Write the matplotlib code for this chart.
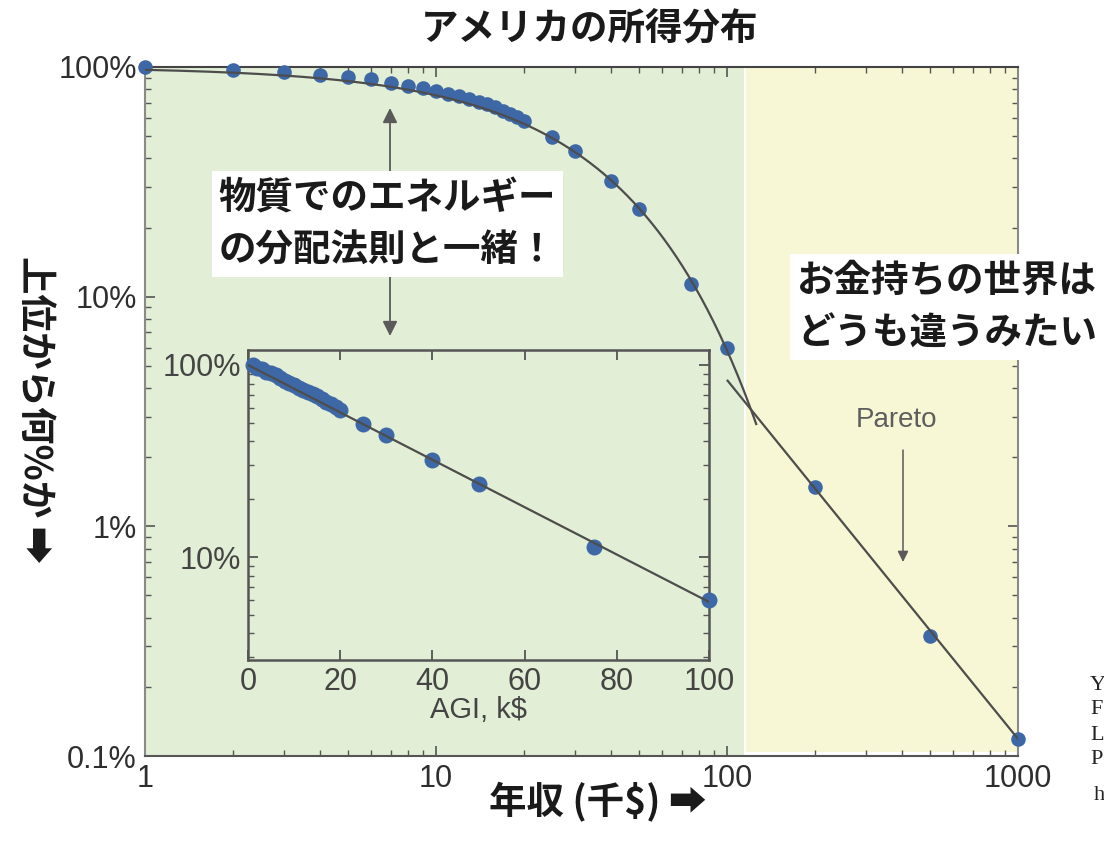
import numpy as np
import matplotlib
matplotlib.use("Agg")
import matplotlib.pyplot as plt
from matplotlib.ticker import FixedLocator, NullFormatter, LogLocator

# --- data: cumulative share of tax returns above a given income (AGI, k$) ---
income_k = [1, 2, 3, 4, 5, 6, 7, 8, 9, 10, 11, 12, 13, 14, 15, 16, 17, 18, 19, 20,
            25, 30, 40, 50, 75, 100, 200, 500, 1000]
share_above = [1.00, 0.970, 0.951, 0.923, 0.905, 0.887, 0.851, 0.829, 0.807, 0.784,
               0.763, 0.745, 0.725, 0.706, 0.688, 0.667, 0.645, 0.624, 0.603, 0.581,
               0.495, 0.430, 0.320, 0.240, 0.113, 0.0595, 0.0149, 0.00333, 0.00119]

# Boltzmann-Gibbs (exponential) fit and Pareto (power-law) tail
temperature_k = 35.2
pareto_level = 58.0
pareto_exponent = 1.563

main_xticks = [1, 10, 100, 1000]
main_xticklabels = ["1", "10", "100", "1000"]
main_yticks = [0.001, 0.01, 0.1, 1.0]
main_yticklabels = ["0.1%", "1%", "10%", "100%"]
inset_xticks = [0, 20, 40, 60, 80, 100]
inset_yticks = [0.1, 1.0]
inset_yticklabels = ["10%", "100%"]

W, H = 1104, 843
GREEN = "#e2eed5"
YELLOW = "#f8f7d5"
DOT = "#3e67a6"
LINE = "#4d4d4d"
TICK = "#2e2e2e"
CJK = ["Noto Sans CJK JP", "DejaVu Sans"]
LATIN = "Liberation Sans"


def px(x, y):
    return x / W, 1 - y / H


fig = plt.figure(figsize=(W / 100, H / 100), dpi=100)
fig.patch.set_facecolor("white")

# ---------------- main log-log panel ----------------
ax = fig.add_axes([145 / W, 1 - 756 / H, (1018 - 145) / W, (756 - 67) / H])
ax.set_xscale("log")
ax.set_yscale("log")
ax.set_xlim(1, 1000)
ax.set_ylim(0.001, 1.0)
ax.axvspan(1, 114.5, color=GREEN, lw=0, zorder=0)
ax.axvspan(116.5, 1000, ymin=0.006, color=YELLOW, lw=0, zorder=0)

xx = np.logspace(0, np.log10(126), 300)
ax.plot(xx, np.exp(-xx / temperature_k), color=LINE, lw=1.6, zorder=4)
xp = np.logspace(np.log10(100.5), 3, 50)
ax.plot(xp, pareto_level * xp ** (-pareto_exponent), color=LINE, lw=1.6, zorder=4)
ax.plot(income_k, share_above, "o", color=DOT, ms=10.5, mec="none", zorder=3,
        clip_on=False)

ax.xaxis.set_major_locator(FixedLocator(main_xticks))
ax.set_xticklabels(main_xticklabels)
ax.xaxis.set_minor_locator(LogLocator(base=10, subs=np.arange(2, 10)))
ax.xaxis.set_minor_formatter(NullFormatter())
ax.yaxis.set_major_locator(FixedLocator(main_yticks))
ax.set_yticklabels(main_yticklabels)
ax.yaxis.set_minor_locator(LogLocator(base=10, subs=np.arange(2, 10)))
ax.yaxis.set_minor_formatter(NullFormatter())
ax.tick_params(which="both", direction="in", top=True, right=True, colors="#555555")
ax.tick_params(which="major", length=7, width=1.2, labelsize=22, labelcolor=TICK, pad=6)
ax.tick_params(which="minor", length=4, width=1.0)
for lab in ax.get_xticklabels() + ax.get_yticklabels():
    lab.set_fontfamily(LATIN)
for side, col in [("left", "#8a8a8a"), ("right", "#8a8a8a"), ("top", "#444444"), ("bottom", "#555555")]:
    ax.spines[side].set_color(col)
    ax.spines[side].set_linewidth(1.5)

# double-headed pointer toward the exponential region
ax.annotate("", xy=px(390, 108), xycoords="figure fraction",
            xytext=px(390, 336), textcoords="figure fraction",
            arrowprops=dict(arrowstyle="<|-|>", color="#5a5a5a", lw=1.3,
                            mutation_scale=22, shrinkA=0, shrinkB=0), zorder=4)
# Pareto label and arrow
fig.text(*px(897, 420), "Pareto", fontsize=20, color="#5e5e5e", family=LATIN,
         ha="center", va="center")
ax.annotate("", xy=px(903, 562), xycoords="figure fraction",
            xytext=px(903, 450), textcoords="figure fraction",
            arrowprops=dict(arrowstyle="-|>", color="#5a5a5a", lw=1.1,
                            mutation_scale=16, shrinkA=0, shrinkB=0), zorder=4)

# ---------------- inset: semi-log, linear income ----------------
ins = fig.add_axes([248 / W, 1 - 660 / H, (709 - 248) / W, (660 - 350) / H], zorder=5)
ins.set_facecolor(GREEN)
ins.set_yscale("log")
ins.set_xlim(0, 100)
ins.set_ylim(0.0291, 1.197)
xi = np.linspace(0, 100, 200)
ins.plot(xi, np.exp(-xi / temperature_k), color=LINE, lw=1.6, zorder=4)
mask = [x <= 100 for x in income_k]
ins.plot([x for x, m in zip(income_k, mask) if m], [y for y, m in zip(share_above, mask) if m],
         "o", color=DOT, ms=11.5, mec="none", zorder=3, clip_on=False)
ins.xaxis.set_major_locator(FixedLocator(inset_xticks))
ins.yaxis.set_major_locator(FixedLocator(inset_yticks))
ins.set_yticklabels(inset_yticklabels)
ins.yaxis.set_minor_locator(LogLocator(base=10, subs=np.arange(2, 10)))
ins.yaxis.set_minor_formatter(NullFormatter())
ins.tick_params(which="both", direction="in", top=True, right=True, colors="#555555")
ins.tick_params(which="major", length=7, width=1.3, labelsize=22, labelcolor="#444444", pad=5)
ins.tick_params(which="minor", length=4, width=1.0)
for lab in ins.get_xticklabels() + ins.get_yticklabels():
    lab.set_fontfamily(LATIN)
for s in ins.spines.values():
    s.set_color("#555555")
    s.set_linewidth(1.8)
ins.set_xlabel("AGI, k$", fontsize=21, family=LATIN, color="#444444", labelpad=-1)

# ---------------- titles, axis labels, callouts ----------------
fig.text(*px(590, 28), "アメリカの所得分布", fontsize=27, fontweight="bold",
         family=CJK, ha="center", va="center", color="#1a1a1a")
fig.text(*px(598, 802), "年収 (千$) ➡", fontsize=27, fontweight="bold",
         family=CJK, ha="center", va="center", color="#1a1a1a")
fig.text(*px(35, 410), "上位から何%か ➡", fontsize=27, fontweight="bold",
         family=CJK, ha="center", va="center", rotation=-90, color="#1a1a1a")

box = dict(boxstyle="square,pad=0.18", fc="white", ec="none")
fig.text(*px(387, 224), "物質でのエネルギー\nの分配法則と一緒！", fontsize=27,
         fontweight="bold", family=CJK, ha="center", va="center", color="#1a1a1a",
         linespacing=1.45, bbox=box, zorder=10)
fig.text(*px(797, 307), "お金持ちの世界は\nどうも違うみたい", fontsize=27,
         fontweight="bold", family=CJK, ha="left", va="center", color="#1a1a1a",
         linespacing=1.45, bbox=box, zorder=10)

# reference letters at the right margin
for letter, (x, y) in zip(["Y", "F", "L", "P", "h"],
                          [(1090, 685), (1090, 710), (1090, 735), (1090, 760), (1094, 795)]):
    fig.text(*px(x, y), letter, fontsize=16, family="Liberation Serif",
             ha="left", va="center", color="#222222")

fig.savefig("out.png", dpi=100)
